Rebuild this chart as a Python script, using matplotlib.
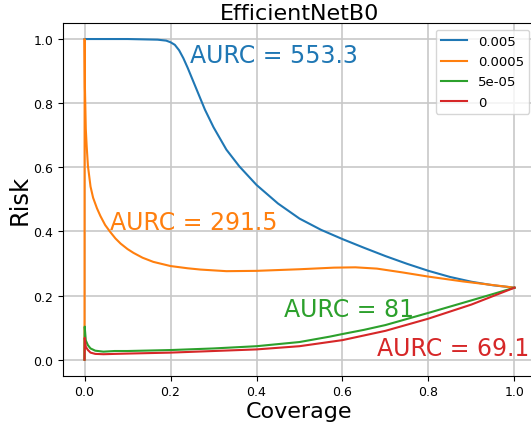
import matplotlib.pyplot as plt

# risk-coverage curves
labels = ['0.005', '0.0005', '5e-05', '0']
aurc = ['553.3', '291.5', '81', '69.1']

cov_a = [0.0, 0.1, 0.17, 0.19, 0.2, 0.21, 0.22, 0.23, 0.24, 0.26, 0.28, 0.30, 0.33, 0.36,
         0.40, 0.45, 0.50, 0.55, 0.60, 0.65, 0.70, 0.75, 0.80, 0.85, 0.90, 0.95, 1.0]
risk_a = [1.0, 1.0, 0.998, 0.995, 0.99, 0.982, 0.965, 0.94, 0.91, 0.845, 0.78, 0.725, 0.655, 0.603,
          0.545, 0.487, 0.440, 0.405, 0.376, 0.349, 0.323, 0.299, 0.277, 0.258, 0.243, 0.232, 0.2245]

cov_b = [0.0, 0.0003, 0.001, 0.003, 0.005, 0.008, 0.014, 0.02, 0.029, 0.037, 0.048, 0.06, 0.072,
         0.084, 0.1, 0.114, 0.135, 0.16, 0.2, 0.24, 0.27, 0.33, 0.4, 0.5, 0.58, 0.63, 0.68, 0.74,
         0.8, 0.88, 1.0]
risk_b = [0.0, 1.0, 0.85, 0.72, 0.667, 0.604, 0.54, 0.505, 0.472, 0.448, 0.42, 0.398, 0.378,
          0.362, 0.345, 0.333, 0.318, 0.305, 0.292, 0.285, 0.281, 0.276, 0.277, 0.282, 0.287, 0.288,
          0.284, 0.272, 0.259, 0.244, 0.2245]

cov_c = [0.0, 0.0005, 0.003, 0.008, 0.014, 0.025, 0.044, 0.07, 0.1, 0.2, 0.3, 0.4, 0.5,
         0.571, 0.6, 0.65, 0.7, 0.8, 0.9, 1.0]
risk_c = [0.0, 0.103, 0.06, 0.045, 0.035, 0.028, 0.025, 0.027, 0.027, 0.03, 0.035, 0.042, 0.055,
          0.072, 0.08, 0.093, 0.108, 0.146, 0.185, 0.2245]

cov_d = [0.0, 0.0005, 0.003, 0.008, 0.014, 0.025, 0.044, 0.07, 0.1, 0.2, 0.3, 0.4, 0.5,
         0.6, 0.7, 0.8, 0.9, 1.0]
risk_d = [0.0, 0.068, 0.04, 0.03, 0.022, 0.018, 0.017, 0.018, 0.019, 0.022, 0.027, 0.032, 0.042,
          0.061, 0.09, 0.128, 0.172, 0.2245]

curves = [(cov_a, risk_a), (cov_b, risk_b), (cov_c, risk_c), (cov_d, risk_d)]
text_pos = [(0.246, 0.929), (0.060, 0.408), (0.464, 0.137), (0.681, 0.014)]
colors = ['tab:blue', 'tab:orange', 'tab:green', 'tab:red']

fig = plt.figure(figsize=(5.31, 4.27), dpi=100)
ax = fig.add_axes([63/531, 50.3/427, 473/531, 352.7/427])

for (x, y), lab, c in zip(curves, labels, colors):
    ax.plot(x, y, color=c, label=lab, lw=1.5)

for (tx, ty), a, c in zip(text_pos, aurc, colors):
    ax.text(tx, ty, 'AURC = ' + a, color=c, fontsize=17, ha='left', va='baseline')

ax.set_xlim(-0.05, 1.05)
ax.set_ylim(-0.05, 1.05)
ax.set_xticks([0.0, 0.2, 0.4, 0.6, 0.8, 1.0])
ax.set_yticks([0.0, 0.2, 0.4, 0.6, 0.8, 1.0])
ax.tick_params(labelsize=9)
ax.grid(True, color='#c8c8c8', lw=1.2)
ax.set_axisbelow(True)
ax.set_title('EfficientNetB0', fontsize=16, pad=3)
ax.set_xlabel('Coverage', fontsize=16, labelpad=2)
ax.set_ylabel('Risk', fontsize=17.5, labelpad=1)
ax.legend(loc='upper right', fontsize=9.5, labelspacing=0.55)

fig.savefig('out.png', dpi=100)
